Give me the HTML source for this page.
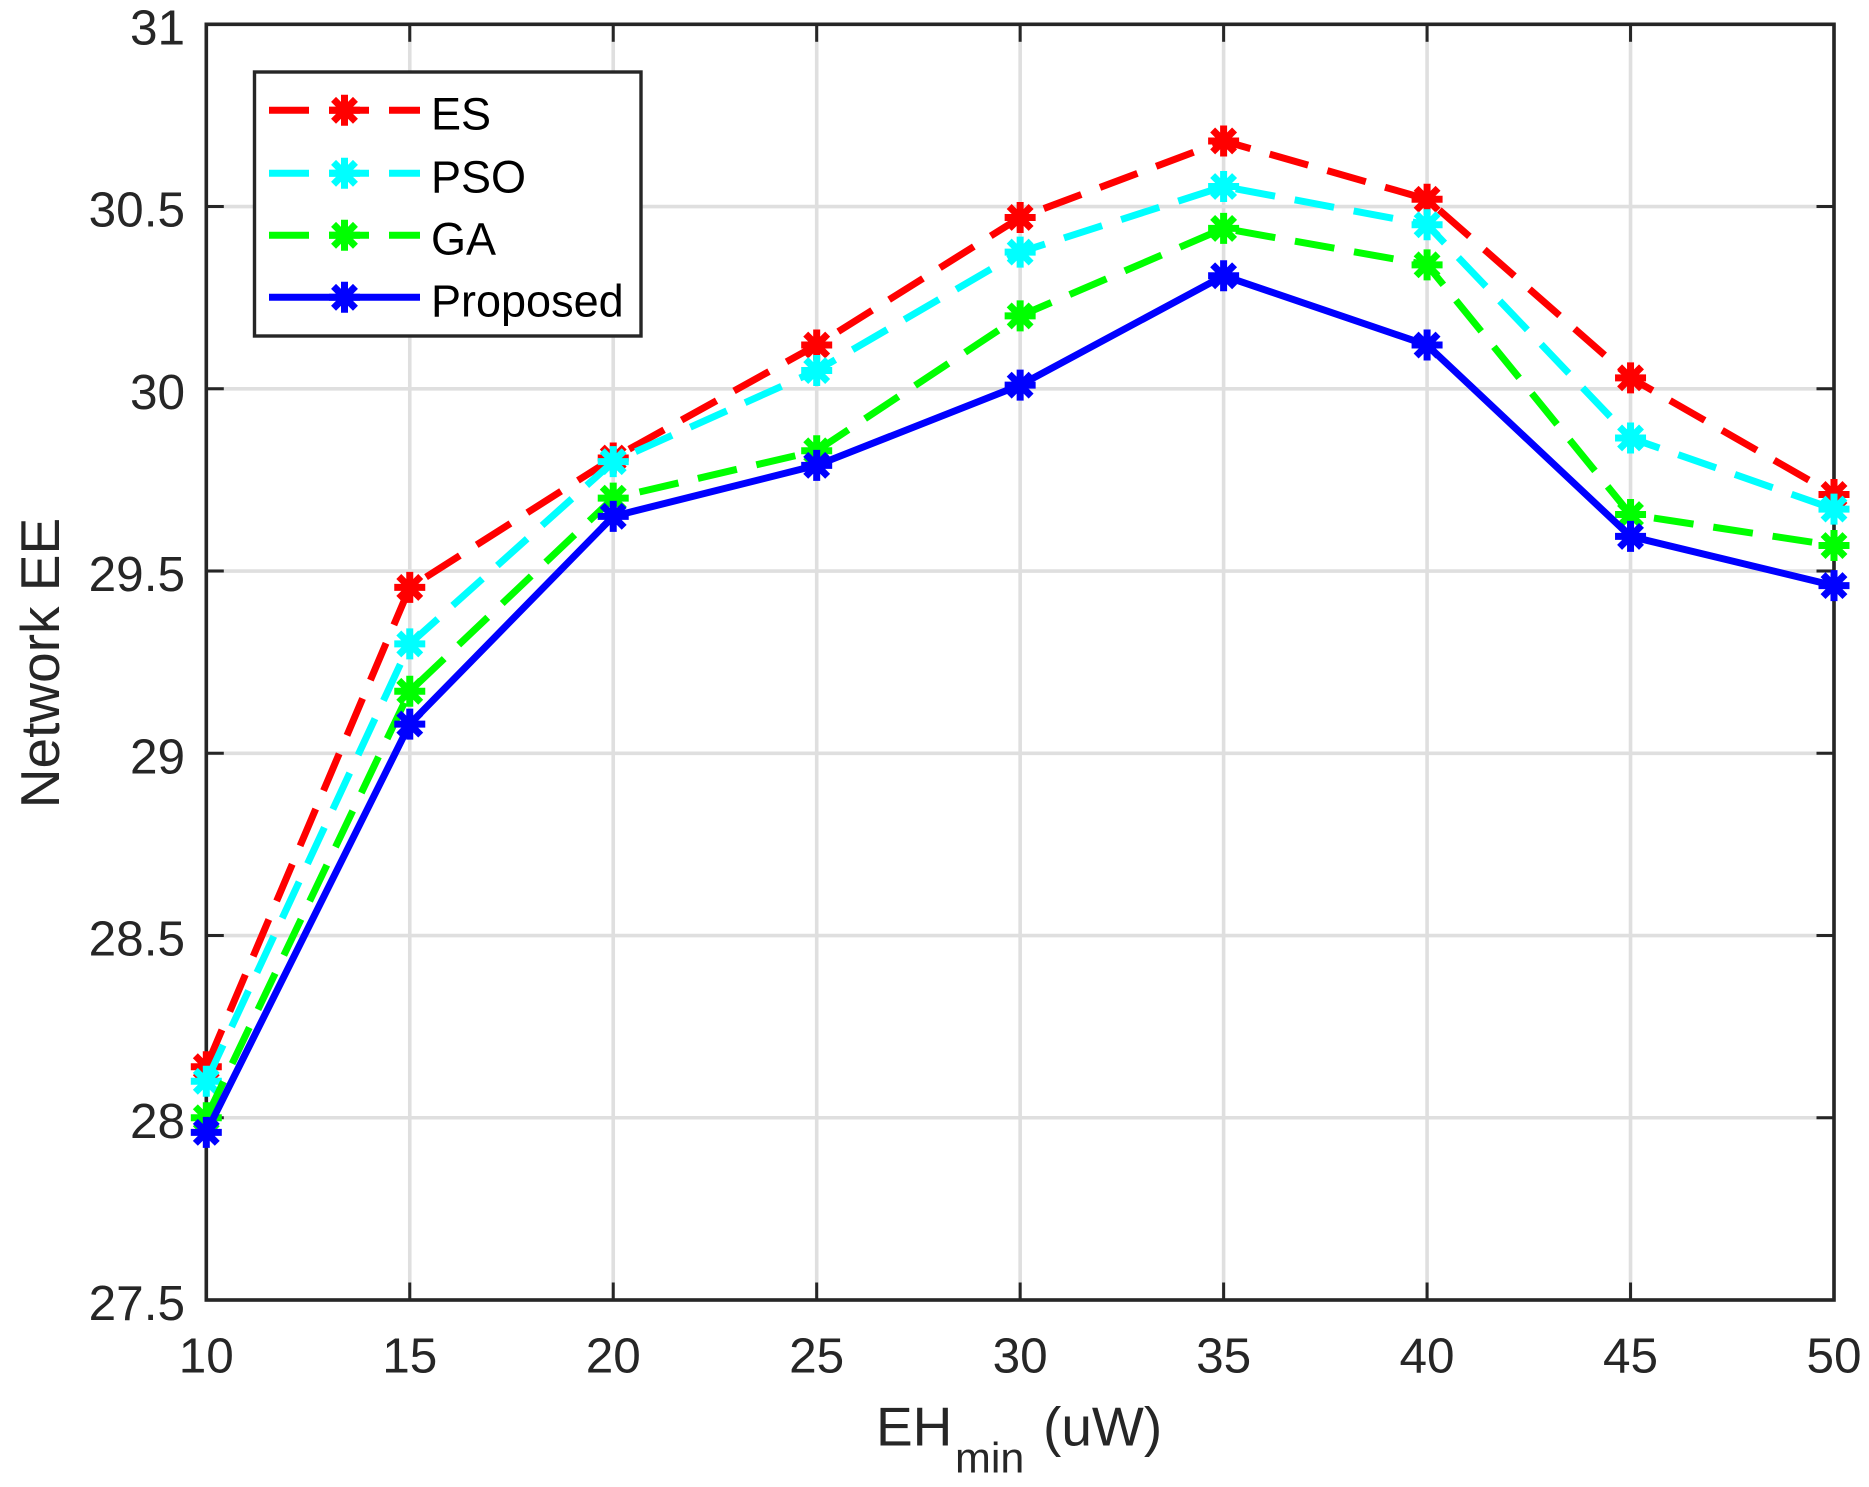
<!DOCTYPE html>
<html lang="en">
<head>
<meta charset="utf-8">
<title>Network EE vs EHmin</title>
<style>
html,body{margin:0;padding:0;background:#fff;}
svg{display:block;}
text{font-family:"Liberation Sans",Arial,sans-serif;}
</style>
</head>
<body>
<svg id="chart" xmlns="http://www.w3.org/2000/svg" width="1869" height="1487" viewBox="0 0 1869 1487"></svg>
<script>
const categories = [10, 15, 20, 25, 30, 35, 40, 45, 50];
const esValues = [28.14, 29.455, 29.81, 30.12, 30.47, 30.68, 30.52, 30.03, 29.71];
const psoValues = [28.10, 29.30, 29.80, 30.05, 30.375, 30.555, 30.45, 29.865, 29.67];
const gaValues = [28.00, 29.17, 29.70, 29.83, 30.20, 30.44, 30.34, 29.655, 29.57];
const proposedValues = [27.96, 29.08, 29.65, 29.79, 30.01, 30.31, 30.12, 29.595, 29.46];
const xTickValues = [10, 15, 20, 25, 30, 35, 40, 45, 50];
const xTickLabels = ["10", "15", "20", "25", "30", "35", "40", "45", "50"];
const yTickValues = [27.5, 28, 28.5, 29, 29.5, 30, 30.5, 31];
const yTickLabels = ["27.5", "28", "28.5", "29", "29.5", "30", "30.5", "31"];
const seriesNames = ["ES", "PSO", "GA", "Proposed"];
const seriesColors = ["#ff0000", "#00ffff", "#00ff00", "#0000ff"];

const svg = document.getElementById('chart');
const NS = 'http://www.w3.org/2000/svg';
const plot = {left: 206.3, right: 1834, top: 24.3, bottom: 1300};
const domainX = [10, 50];
const domainY = [27.5, 31];
function xScale(v) { return plot.left + (v - domainX[0]) / (domainX[1] - domainX[0]) * (plot.right - plot.left); }
function yScale(v) { return plot.bottom - (v - domainY[0]) / (domainY[1] - domainY[0]) * (plot.bottom - plot.top); }
function make(tag, attrs, parent) {
  const el = document.createElementNS(NS, tag);
  for (const k in attrs) el.setAttribute(k, attrs[k]);
  (parent || svg).appendChild(el);
  return el;
}
function starPath(cx, cy, r) {
  let d = '';
  for (let i = 0; i < 4; i++) {
    const a = i * Math.PI / 4;
    const dx = Math.cos(a) * r, dy = Math.sin(a) * r;
    d += 'M' + (cx - dx).toFixed(2) + ' ' + (cy - dy).toFixed(2) + 'L' + (cx + dx).toFixed(2) + ' ' + (cy + dy).toFixed(2);
  }
  return d;
}

// Background
const bg = make('rect', {x: 0, y: 0, width: 1869, height: 1487, fill: '#ffffff'});



// Grid
const gridGroup = make('g', {stroke: '#dfdfdf', 'stroke-width': 3.6, fill: 'none'});


xTickValues.forEach(function (v) {
  const g = make('line', {x1: xScale(v), x2: xScale(v), y1: plot.top, y2: plot.bottom}, gridGroup);
  
  
});
yTickValues.forEach(function (v) {
  const g = make('line', {x1: plot.left, x2: plot.right, y1: yScale(v), y2: yScale(v)}, gridGroup);
  
  
});

// Axis ticks and box
const axisGroup = make('g', {stroke: '#262626', fill: 'none'});


const tickLen = 17.5;
xTickValues.forEach(function (v) {
  const px = xScale(v);
  const t1 = make('line', {x1: px, x2: px, y1: plot.bottom, y2: plot.bottom - tickLen, 'stroke-width': 3}, axisGroup);
  
  
  const t2 = make('line', {x1: px, x2: px, y1: plot.top, y2: plot.top + tickLen, 'stroke-width': 3}, axisGroup);
  
  
});
yTickValues.forEach(function (v) {
  const py = yScale(v);
  const t1 = make('line', {x1: plot.left, x2: plot.left + tickLen, y1: py, y2: py, 'stroke-width': 3}, axisGroup);
  
  
  const t2 = make('line', {x1: plot.right, x2: plot.right - tickLen, y1: py, y2: py, 'stroke-width': 3}, axisGroup);
  
  
});
const box = make('rect', {x: plot.left, y: plot.top, width: plot.right - plot.left, height: plot.bottom - plot.top, 'stroke-width': 3.6}, axisGroup);



// Tick labels
xTickValues.forEach(function (v, i) {
  const t = make('text', {x: xScale(v), y: 1372.7, 'font-size': 49.5, 'text-anchor': 'middle', fill: '#262626'});
  t.textContent = xTickLabels[i];
  
  
});
yTickValues.forEach(function (v, i) {
  const t = make('text', {x: 185, y: yScale(v) + 20, 'font-size': 49.5, 'text-anchor': 'end', fill: '#262626'});
  t.textContent = yTickLabels[i];
  
  
});

// Series
const allValues = [esValues, psoValues, gaValues, proposedValues];
allValues.forEach(function (vals, s) {
  const group = make('g', {});
  
  
  const pts = vals.map(function (v, i) { return xScale(categories[i]).toFixed(2) + ',' + yScale(v).toFixed(2); }).join(' ');
  const attrs = {points: pts, fill: 'none', stroke: seriesColors[s], 'stroke-width': 7, 'stroke-linejoin': 'miter'};
  if (s < 3) attrs['stroke-dasharray'] = '40 20';
  const line = make('polyline', attrs, group);
  
  
  vals.forEach(function (v, i) {
    const m = make('path', {d: starPath(xScale(categories[i]), yScale(v), 15.5), fill: 'none', stroke: seriesColors[s], 'stroke-width': 7}, group);
    
    
  });
});

// Axis titles
const xTitle = make('text', {y: 1445.7, 'font-size': 55, fill: '#262626'});


const xa = make('tspan', {x: 876}, xTitle); xa.textContent = 'EH';
const xb = make('tspan', {x: 955, y: 1472.7, 'font-size': 43}, xTitle); xb.textContent = 'min';
const xc = make('tspan', {x: 1043, y: 1445.7}, xTitle); xc.textContent = '(uW)';

const yTitle = make('text', {x: 0, y: 0, 'font-size': 55, fill: '#262626', 'text-anchor': 'middle', transform: 'translate(59 663) rotate(-90)'});
yTitle.textContent = 'Network EE';



// Legend
const legend = make('g', {});


const legendBox = make('rect', {x: 254.5, y: 72, width: 386.5, height: 264, fill: '#ffffff', stroke: '#262626', 'stroke-width': 3.4}, legend);


const legendRowY = [110.3, 173.3, 235.3, 297.3];
seriesNames.forEach(function (name, s) {
  const row = make('g', {}, legend);
  
  
  const la = {x1: 269, x2: 420, y1: legendRowY[s], y2: legendRowY[s], stroke: seriesColors[s], 'stroke-width': 7};
  if (s < 3) la['stroke-dasharray'] = '40 20';
  make('line', la, row);
  make('path', {d: starPath(344.5, legendRowY[s], 15.5), fill: 'none', stroke: seriesColors[s], 'stroke-width': 7}, row);
  const label = make('text', {x: 431, y: legendRowY[s] + 19.3, 'font-size': 45, fill: '#000000'}, row);
  label.textContent = name;
});
</script>
</body>
</html>
